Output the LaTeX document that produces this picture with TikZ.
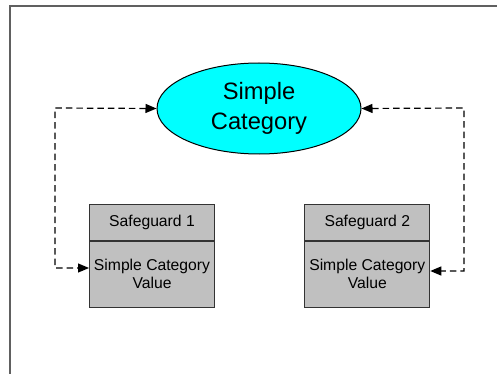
\documentclass[tikz,border=0pt]{standalone}
\usepackage{fontspec}
\setmainfont{Liberation Sans}
\usetikzlibrary{shapes.geometric,arrows.meta}

\definecolor{catcyan}{RGB}{0,255,255}
\definecolor{boxgray}{RGB}{192,192,192}
\definecolor{framegray}{RGB}{96,96,96}

\tikzset{
  catnode/.style={ellipse, draw=black, line width=1pt, fill=catcyan, minimum width=204pt, minimum height=91pt,
    inner sep=0pt, align=center, font=\fontsize{23.7}{30}\selectfont},
  headbox/.style={rectangle, draw=black!80, line width=1pt, fill=boxgray, minimum width=125pt, minimum height=36pt,
    inner sep=0pt, font=\fontsize{15.7}{18}\selectfont},
  valbox/.style={headbox, minimum height=66pt, align=center},
  link/.style={draw=black, line width=1.2pt, dash pattern=on 6.5pt off 4pt,
    {Triangle[length=11pt,width=9pt]}-{Triangle[length=11pt,width=9pt]}}
}

\begin{document}
\begin{tikzpicture}[x=1pt,y=-1pt]
\useasboundingbox (0,0) rectangle (497,374);
\draw [framegray, line width=1.2pt] (10,374) -- (10,6) -- (497,6);
\node[catnode] (cat) at (259,108.5) {Simple\\Category};
\node[headbox] (s1h) at (152,222.7) {Safeguard 1};
\node[valbox]  (s1v) at (152,274)   {Simple Category\\Value};
\node[headbox] (s2h) at (367.3,222.7) {Safeguard 2};
\node[valbox]  (s2v) at (367.3,274)   {Simple Category\\Value};
\coordinate (lc) at (55,108);
\coordinate (rc) at (464,108);
\draw[link] (cat.west) -- (lc) |- ([yshift=6pt]s1v.west);
\draw[link] (cat.east) -- (rc) |- ([yshift=3pt]s2v.east);
\end{tikzpicture}
\end{document}
